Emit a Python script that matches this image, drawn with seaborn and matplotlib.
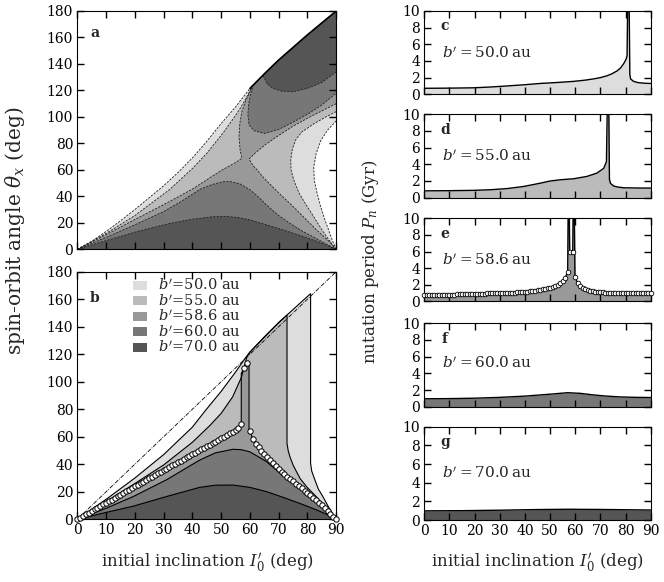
import numpy as np
import pandas as pd
import matplotlib
matplotlib.use("Agg")
import matplotlib.pyplot as plt
import seaborn as sns

# ---------------- data ----------------
b_labels = ["50.0", "55.0", "58.6", "60.0", "70.0"]
greys = ["#dddddd", "#bbbbbb", "#999999", "#777777", "#555555"]

# panel a: contour lines in the (I0', theta_x) plane
a_bound_x = [0, 5, 10, 15, 20, 25, 30, 35, 40, 45, 50, 55, 60, 65, 70, 75, 80, 85, 90]
a_bound_y = [0, 6, 13.5, 21.5, 30, 39, 48, 58, 69, 81.5, 95, 107.5, 121.5, 132.5, 143, 152.5, 162, 171, 180]
a50_pocket_x = [90, 87, 84.6, 83, 82.2, 82.4, 83.3, 84.5, 85.8, 87.3, 88.8, 90]
a50_pocket_y = [97, 90, 82, 72, 62, 52, 43, 33, 24, 15, 6, 0]
a55_left_x = [0, 10, 20, 32, 40, 45, 50.7, 54, 56.5, 58.5, 60.5]
a55_left_y = [0, 12, 25.5, 45, 61, 72.5, 88, 98, 106, 113.5, 121.5]
a55_right_x = [90, 86, 82, 78, 76, 74.8, 74.2, 74.3, 75.3, 77.2, 80, 82.5, 84.8, 87, 89, 90]
a55_right_y = [104, 99.5, 94.5, 88.5, 83, 76, 68, 60, 52, 42, 32, 23.5, 15.5, 8.5, 2.5, 0]
a586_left_x = [0, 10, 20, 32, 40, 50, 55, 57.2, 56.6, 56.2, 56.5, 57.2, 58.3, 59.6, 61]
a586_left_y = [0, 11, 22.5, 36, 45.5, 59.5, 65.5, 68.7, 75, 85, 95, 104, 111, 117, 123.7]
a586_rup_x = [59.7, 62, 65, 70, 75, 80, 85, 90]
a586_rup_y = [68.2, 73, 78.5, 86, 93, 99, 104.5, 110]
a586_rlow_x = [59.7, 61, 62.5, 65, 68, 71, 74, 77, 80, 83, 86, 88, 90]
a586_rlow_y = [68.2, 63.5, 60, 53.5, 47, 40.5, 34.5, 28, 21.5, 15, 9, 5, 0]
a60_low_x = [0, 10, 20, 30, 36, 42.8, 47, 50.5, 53, 56.5, 60, 63, 66, 70, 74, 78, 84, 90]
a60_low_y = [0, 9, 18.5, 28.5, 36, 45.5, 49, 51, 51.2, 49.5, 45, 39.5, 33, 25.5, 19.5, 14, 7, 0]
a60_top_x = [61.5, 60.2, 59.6, 59.3, 59.7, 61.5, 65, 70, 75, 80, 85, 90]
a60_top_y = [124.8, 117, 110, 102, 94, 89.5, 87.5, 90.5, 96, 102, 109, 118]
a70_low_x = [0, 10, 20.6, 32.2, 40, 47, 52, 56, 60, 65, 72, 78, 84, 90]
a70_low_y = [0, 6.5, 13.3, 19.6, 22.7, 24.6, 24.8, 24, 22.2, 19, 14.3, 10, 5.5, 0]
a70_top_x = [64.5, 66, 68, 71, 75, 80, 85, 90]
a70_top_y = [131.4, 125, 121.5, 119.5, 119, 121.5, 126, 134]

# panel b: maximum spin-orbit angle reached for each b'
b50_left_x = [0, 10, 20, 30, 40, 44.5, 50, 55, 58.5]
b50_left_y = [0, 14.5, 30, 47, 67, 79, 93, 107, 117.5]
b50_right_x = [81.1, 81.1, 81.5, 82.6, 83.8, 85.4, 87.2, 88.9, 90]
b50_right_y = [164, 40.7, 35, 28.6, 22, 16.4, 9.5, 3.4, 0]
b55_left_x = [0, 10, 20, 30, 40, 46, 50, 54, 57, 59]
b55_left_y = [0, 12.8, 26, 39.5, 56, 68, 77, 89, 103, 118.5]
b55_right_x = [72.9, 72.9, 73.3, 73.9, 75, 76.2, 77.5, 80, 83.1, 86, 88.9, 90]
b55_right_y = [148.5, 55.2, 50, 45.5, 39.5, 34.6, 29.5, 23, 16.4, 9.5, 2.4, 0]
b60_x = [0, 10, 19.4, 30.9, 42.5, 48, 54.1, 57, 59.9, 62.5, 65.8, 71, 77.3, 83, 88.9, 90]
b60_y = [0, 8, 16.5, 28.6, 43, 48.3, 50.9, 50.6, 49.1, 46, 41.9, 32.5, 23.5, 13.5, 1.8, 0]
b70_x = [0, 10, 19.4, 30.9, 42.5, 48, 54.2, 60, 65.8, 71.5, 77.3, 83, 88.9, 90]
b70_y = [0, 5, 9.5, 16.5, 23.2, 24.8, 24.9, 23.2, 20.1, 16, 11.6, 7, 1.5, 0]

# b' = 58.6 au simulations (circles), one per degree of I0'
sim_inc = list(range(0, 91))
sim_theta = [0, 1.2, 2.4, 3.6, 4.8, 6.0, 7.2, 8.4, 9.6, 10.8, 12.0, 13.2, 14.3, 15.5,
             16.7, 17.9, 19.1, 20.3, 21.5, 22.7, 23.9, 25.0, 26.2, 27.4, 28.6, 29.8,
             31.0, 32.1, 33.3, 34.5, 35.7, 36.8, 38.0, 39.2, 40.3, 41.5, 42.7, 43.8,
             45.0, 46.2, 47.3, 48.5, 49.6, 50.8, 51.9, 53.1, 54.2, 55.4, 56.5, 57.7,
             58.8, 60.0, 61.2, 62.4, 63.7, 65.0, 66.6, 69.3,
             110.0, 113.8,
             64.2, 58.5, 55.0, 52.2, 49.6, 47.3, 45.0, 42.8, 40.7, 38.6, 36.6, 34.6,
             32.7, 30.9, 29.2, 27.5, 25.8, 24.2, 22.5, 20.8, 19.1, 17.4, 15.8, 14.1,
             12.2, 10.2, 8.2, 6.1, 4.0, 1.9, 0.0]
sim_period = [0.75, 0.75, 0.76, 0.76, 0.77, 0.77, 0.78, 0.78, 0.79, 0.79, 0.80,
              0.81, 0.81, 0.82, 0.83, 0.84, 0.85, 0.86, 0.87, 0.88, 0.89, 0.90,
              0.91, 0.92, 0.93, 0.94, 0.95, 0.96, 0.97, 0.98, 0.99, 1.00, 1.01,
              1.02, 1.03, 1.05, 1.06, 1.08, 1.10, 1.12, 1.15, 1.18, 1.21, 1.25,
              1.29, 1.33, 1.38, 1.44, 1.50, 1.57, 1.65, 1.74, 1.84, 1.97, 2.15,
              2.42, 2.85, 3.50,
              6.0, 6.0,
              2.90, 2.15, 1.80, 1.58, 1.45, 1.35, 1.27, 1.21, 1.16, 1.12, 1.09,
              1.07, 1.05, 1.03, 1.02, 1.01, 1.00, 0.99, 0.99, 0.98, 0.98, 0.97,
              0.97, 0.97, 0.96, 0.96, 0.96, 0.95, 0.95, 0.95, 0.95]
# extra points where the curves run along the walls of the resonance
b586_wall_left_x, b586_wall_left_y = [57], [106.1]
b586_wall_right_x, b586_wall_right_y = [59.7, 59.7], [113.5, 64.5]
e_spike_left_x, e_spike_left_y = [57.2, 57.6, 57.8], [12, 12, 6.0]
e_spike_right_x, e_spike_right_y = [59.2, 59.6, 59.9], [12, 12, 2.95]

# panels c, d, f, g: nutation period curves
c_x = [0, 10, 19.5, 26, 32.8, 40, 46, 53, 59.3, 64, 67.3, 70, 72.6, 74.5, 76.6, 78,
       79.3, 80.2, 80.6, 80.9, 81.4, 81.7, 82, 83.2, 85, 87.5, 90]
c_p = [0.72, 0.74, 0.78, 0.87, 1.0, 1.15, 1.3, 1.42, 1.55, 1.7, 1.85, 2.0, 2.22, 2.45,
       2.8, 3.15, 3.7, 4.2, 4.6, 12, 12, 2.4, 1.85, 1.55, 1.4, 1.33, 1.3]
d_x = [0, 10, 19.5, 26.2, 32.8, 39.4, 46.1, 50, 54, 59.3, 64.6, 68.6, 71.3, 72.4, 72.8,
       73.3, 73.6, 74, 75.3, 77, 79.3, 85, 90]
d_p = [0.8, 0.82, 0.86, 0.93, 1.07, 1.32, 1.72, 1.98, 2.13, 2.25, 2.53, 2.93, 3.5, 4.3,
       12, 12, 2.2, 1.7, 1.38, 1.25, 1.17, 1.14, 1.13]
f_x = [0, 10, 20, 30, 40, 50, 57, 62, 67, 72, 78, 84, 90]
f_p = [0.95, 0.97, 1.02, 1.12, 1.27, 1.5, 1.68, 1.6, 1.42, 1.28, 1.17, 1.12, 1.1]
g_x = [0, 15, 30, 45, 57, 70, 80, 90]
g_p = [0.98, 1.0, 1.05, 1.12, 1.15, 1.13, 1.1, 1.07]


def pts(xs, ys):
    return list(zip(xs, ys))


def bound_seg(x_lo, x_hi):
    return [(x, y) for x, y in zip(a_bound_x, a_bound_y) if x_lo < x < x_hi]


def curve(ax, xy, **kw):
    df = pd.DataFrame(xy, columns=["x", "y"])
    sns.lineplot(data=df, x="x", y="y", ax=ax, sort=False, estimator=None,
                 legend=False, **kw)


def patch(ax, xy, color):
    arr = np.array(xy)
    ax.fill(arr[:, 0], arr[:, 1], color=color, lw=0, zorder=0.6)


# ---------------- style ----------------
sns.set_theme(style="ticks")
plt.rcParams.update({
    "font.family": ["DejaVu Serif"],
    "mathtext.fontset": "dejavuserif",
    "axes.linewidth": 0.8, "axes.edgecolor": "black",
    "axes.axisbelow": False,
    "xtick.direction": "in", "ytick.direction": "in",
    "xtick.top": True, "ytick.right": True,
    "xtick.major.size": 5, "ytick.major.size": 5,
    "xtick.major.width": 1.0, "ytick.major.width": 1.0,
    "xtick.color": "black", "ytick.color": "black",
    "xtick.labelsize": 10, "ytick.labelsize": 10,
})

W, H = 664, 582
fig = plt.figure(figsize=(W / 100, H / 100), dpi=100)


def box(x0, x1, y0, y1):
    return fig.add_axes([x0 / W, 1 - y1 / H, (x1 - x0) / W, (y1 - y0) / H])


ax_a = box(77.3, 336.2, 11, 249.3)
ax_b = box(77.3, 336.2, 271.7, 519.3)
right = [box(424.3, 650.7, 11, 94.3), box(424.3, 650.7, 114.3, 197.5),
         box(424.3, 650.7, 218.3, 301.3), box(424.3, 650.7, 323.3, 406.7),
         box(424.3, 650.7, 426.7, 520)]

# ---------------- panel a ----------------
dash = dict(color="#202020", lw=0.6, linestyle=(0, (2.6, 1.6)), zorder=2)
patch(ax_a, pts(a_bound_x, a_bound_y) + pts(a50_pocket_x, a50_pocket_y), greys[0])
patch(ax_a, pts(a55_left_x, a55_left_y) + bound_seg(60.5, 91)
      + pts(a55_right_x, a55_right_y), greys[1])
patch(ax_a, pts(a586_left_x, a586_left_y) + bound_seg(61, 91)
      + pts(a586_rup_x, a586_rup_y)[::-1] + pts(a586_rlow_x, a586_rlow_y)[1:], greys[2])
patch(ax_a, pts(a60_low_x, a60_low_y), greys[3])
patch(ax_a, pts(a60_top_x, a60_top_y) + [(90, 180)] + bound_seg(61.5, 90)[::-1], greys[3])
patch(ax_a, pts(a70_low_x, a70_low_y), greys[4])
patch(ax_a, pts(a70_top_x, a70_top_y) + [(90, 180)] + bound_seg(64.5, 90)[::-1], greys[4])

for xs, ys in [(a50_pocket_x, a50_pocket_y), (a55_left_x, a55_left_y),
               (a55_right_x, a55_right_y), (a586_left_x, a586_left_y),
               (a586_rup_x[::-1] + a586_rlow_x[1:], a586_rup_y[::-1] + a586_rlow_y[1:]),
               (a60_low_x, a60_low_y), (a60_top_x, a60_top_y),
               (a70_low_x, a70_low_y), (a70_top_x, a70_top_y)]:
    curve(ax_a, pts(xs, ys), **dash)
curve(ax_a, [p for p in pts(a_bound_x, a_bound_y) if p[0] <= 60], **dash)
curve(ax_a, [p for p in pts(a_bound_x, a_bound_y) if p[0] >= 60], color="black", lw=1.2, zorder=2)

# ---------------- panel b ----------------
b586_line = (pts(sim_inc[:58], sim_theta[:58])
             + pts(b586_wall_left_x, b586_wall_left_y)
             + pts(sim_inc[58:60], sim_theta[58:60])
             + pts(b586_wall_right_x, b586_wall_right_y)
             + pts(sim_inc[60:], sim_theta[60:]))
regions_b = [
    pts(b50_left_x, b50_left_y) + bound_seg(58.5, 81.1) + pts(b50_right_x, b50_right_y),
    pts(b55_left_x, b55_left_y) + bound_seg(59, 72.9) + pts(b55_right_x, b55_right_y),
    b586_line,
    pts(b60_x, b60_y),
    pts(b70_x, b70_y),
]
for xy, col in zip(regions_b, greys):
    patch(ax_b, xy, col)
    curve(ax_b, xy, color="black", lw=0.8, zorder=2)
curve(ax_b, [(0, 0), (90, 180)], color="black", lw=0.6, linestyle=(0, (5, 1.5, 1, 1.5)), zorder=2)
sns.scatterplot(x=sim_inc, y=sim_theta, ax=ax_b, s=15, color="white", edgecolor="black",
                linewidth=0.7, zorder=5, clip_on=False, legend=False)

for i, (lab, col) in enumerate(zip(b_labels, greys)):
    yc = 0.946 - i * 0.063
    ax_b.add_patch(plt.Rectangle((0.216, yc - 0.018), 0.052, 0.036, transform=ax_b.transAxes,
                                 color=col, lw=0, zorder=6))
    ax_b.text(0.313, yc, r"$b'$=" + lab + " au", transform=ax_b.transAxes,
              fontsize=10.5, va="center", ha="left", zorder=6)

for ax, lab, yl in [(ax_a, "a", 0.908), (ax_b, "b", 0.893)]:
    ax.set_xlim(0, 90)
    ax.set_ylim(0, 180)
    ax.set_xticks(range(0, 91, 10))
    ax.set_yticks(range(0, 181, 20))
    ax.set_xlabel("")
    ax.set_ylabel("")
    ax.text(0.068, yl, lab, transform=ax.transAxes, fontsize=10, fontweight="bold",
            va="center", ha="center", zorder=7)

# ---------------- panels c-g ----------------
e_line = (pts(sim_inc[:58], sim_period[:58]) + pts(e_spike_left_x, e_spike_left_y)
          + pts(sim_inc[58:60], sim_period[58:60]) + pts(e_spike_right_x, e_spike_right_y)
          + pts(sim_inc[60:], sim_period[60:]))
period_curves = [pts(c_x, c_p), pts(d_x, d_p), e_line, pts(f_x, f_p), pts(g_x, g_p)]
letters = ["c", "d", "e", "f", "g"]
for k, (ax, xy) in enumerate(zip(right, period_curves)):
    arr = np.array(xy)
    ax.fill_between(arr[:, 0], arr[:, 1], 0, color=greys[k], lw=0, zorder=0.6)
    curve(ax, xy, color="black", lw=1.0, zorder=2)
    if k == 2:
        sns.scatterplot(x=sim_inc, y=sim_period, ax=ax, s=11, color="white",
                        edgecolor="black", linewidth=0.6, zorder=5, clip_on=False,
                        legend=False)
    ax.set_xlim(0, 90)
    ax.set_ylim(0, 10)
    ax.set_xticks(range(0, 91, 10))
    ax.set_yticks(range(0, 11, 2))
    ax.set_xlabel("")
    ax.set_ylabel("")
    h = 93.3 if k == 4 else 83.3
    ax.text(0.091, 1 - 15.5 / h, letters[k], transform=ax.transAxes, fontsize=10,
            fontweight="bold", va="center", ha="center", zorder=7)
    ax.text(0.077, 0.5 if k != 3 else 0.52, r"$b' = $" + b_labels[k] + r"$\,$au",
            transform=ax.transAxes, fontsize=11, va="center", ha="left", zorder=7)

# ticks last, on every panel: inward on all four sides
for ax in [ax_a, ax_b] + right:
    ax.set_axisbelow(False)
    ax.minorticks_off()
    ax.tick_params(axis="both", which="major", direction="in", top=True, right=True,
                   bottom=True, left=True, length=5, width=1.0, color="black",
                   labelcolor="black", labelsize=10, pad=3,
                   labelbottom=(ax is ax_b or ax is right[-1]))
    for s in ax.spines.values():
        s.set_visible(True)
        s.set_linewidth(0.8)
        s.set_color("black")

# ---------------- axis titles ----------------
fig.text(15 / W, 1 - 231 / H, r"spin-orbit angle $\theta_x$ (deg)", rotation=90,
         ha="center", va="center", fontsize=14.5)
fig.text(370 / W, 1 - 261.5 / H, r"nutation period $P_n$ (Gyr)", rotation=90,
         ha="center", va="center", fontsize=12)
for xc in (207, 537):
    fig.text(xc / W, 1 - 563 / H, r"initial inclination $I_0'$ (deg)",
             ha="center", va="center", fontsize=12)

fig.savefig("out.png", dpi=100)
